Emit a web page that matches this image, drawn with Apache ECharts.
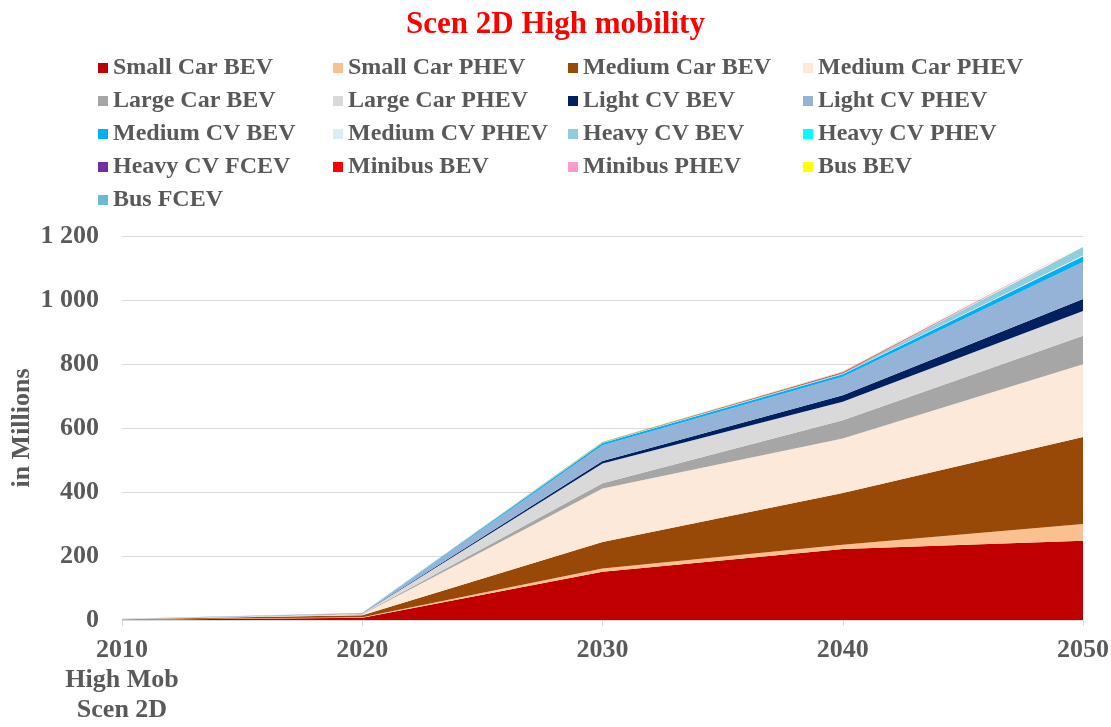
<!DOCTYPE html>
<html><head><meta charset="utf-8">
<script src="https://cdn.jsdelivr.net/npm/echarts@6/dist/echarts.min.js"></script>
<style>html,body{margin:0;padding:0;background:#fff}#c{width:1111px;height:727px}</style>
</head><body><div id="c"></div>
<script>
const years = ['2010', '2020', '2030', '2040', '2050'];
const yTicks = [0, 200, 400, 600, 800, 1000, 1200];
const seriesNames = ['Small Car BEV','Small Car PHEV','Medium Car BEV','Medium Car PHEV','Large Car BEV','Large Car PHEV','Light CV BEV','Light CV PHEV','Medium CV BEV','Medium CV PHEV','Heavy CV BEV','Heavy CV PHEV','Heavy CV FCEV','Minibus BEV','Minibus PHEV','Bus BEV','Bus FCEV'];
const smallCarBEV    = [1.0, 7, 151, 222, 248];
const smallCarPHEV   = [0.3, 1.5, 10, 13, 52];
const mediumCarBEV   = [1.0, 6, 83, 162, 272];
const mediumCarPHEV  = [0.5, 3, 167, 170, 227];
const largeCarBEV    = [0.3, 1, 16, 57, 89];
const largeCarPHEV   = [0.3, 2, 62, 58, 78];
const lightCVBEV     = [0.1, 0.5, 8, 20, 37];
const lightCVPHEV    = [0.1, 0.8, 49, 58, 116];
const mediumCVBEV    = [0.1, 0.3, 7, 8, 17];
const mediumCVPHEV   = [0.05, 0.2, 1, 1, 3];
const heavyCVBEV     = [0.05, 0.1, 1, 2, 27];
const heavyCVPHEV    = [0.02, 0.05, 0.2, 0.3, 1];
const heavyCVFCEV    = [0.01, 0.02, 0.1, 0.2, 1];
const minibusBEV     = [0.05, 0.2, 1, 3, 3];
const minibusPHEV    = [0.02, 0.1, 0.3, 0.5, 1];
const busBEV         = [0.05, 0.1, 0.5, 1, 5];
const busFCEV        = [0.01, 0.05, 0.2, 0.5, 3];
const seriesValues = [smallCarBEV, smallCarPHEV, mediumCarBEV, mediumCarPHEV, largeCarBEV, largeCarPHEV, lightCVBEV, lightCVPHEV, mediumCVBEV, mediumCVPHEV, heavyCVBEV, heavyCVPHEV, heavyCVFCEV, minibusBEV, minibusPHEV, busBEV, busFCEV];
const colors = ['#C00000','#FAC090','#984807','#FDE9D9','#A6A6A6','#D9D9D9','#002060','#95B3D7','#00B0F0','#DAEEF3','#92CDDC','#00FFFF','#7030A0','#FF0000','#FF99CC','#FFFF00','#6DBBCF'];

const FONT = '"Liberation Serif", "Times New Roman", serif';
const TXT = '#595959';
const chart = echarts.init(document.getElementById('c'));

const legendCols = [
  ['Small Car BEV','Large Car BEV','Medium CV BEV','Heavy CV FCEV','Bus FCEV'],
  ['Small Car PHEV','Large Car PHEV','Medium CV PHEV','Minibus BEV'],
  ['Medium Car BEV','Light CV BEV','Heavy CV BEV','Minibus PHEV'],
  ['Medium Car PHEV','Light CV PHEV','Heavy CV PHEV','Bus BEV']
];
const legendX = [98, 333, 568, 803];
const legends = legendCols.map((col, i) => ({
  data: col,
  orient: 'vertical',
  left: legendX[i],
  top: 56,
  padding: 0,
  itemWidth: 10,
  itemHeight: 10,
  itemGap: 9,
  icon: 'rect',
  selectedMode: false,
  textStyle: {fontFamily: FONT, fontWeight: 'bold', fontSize: 24, color: TXT, lineHeight: 24}
}));

chart.setOption({
  animation: false,
  title: {text: 'Scen 2D High mobility', left: 'center', top: 4,
    textStyle: {fontFamily: FONT, fontWeight: 'bold', fontSize: 31, color: '#FF0000'}},
  legend: legends,
  grid: {left: 122, right: 28, top: 236, bottom: 107, containLabel: false, outerBoundsMode: 'none'},
  xAxis: {
    type: 'category', data: years, boundaryGap: false,
    axisLine: {lineStyle: {color: '#D9D9D9'}},
    axisTick: {show: true, length: 6, lineStyle: {color: '#D9D9D9'}},
    axisLabel: {fontFamily: FONT, fontWeight: 'bold', fontSize: 26, color: TXT, margin: 15, lineHeight: 30,
      formatter: v => v === '2010' ? '2010\nHigh Mob\nScen 2D' : v}
  },
  yAxis: {
    type: 'value', min: yTicks[0], max: yTicks[yTicks.length-1], interval: 200,
    name: 'in Millions', nameLocation: 'middle', nameGap: 87, nameRotate: 90, nameMoveOverlap: false,
    nameTextStyle: {fontFamily: FONT, fontWeight: 'bold', fontSize: 26, color: TXT},
    axisLine: {show: false}, axisTick: {show: false},
    splitLine: {lineStyle: {color: '#D9D9D9'}},
    axisLabel: {fontFamily: FONT, fontWeight: 'bold', fontSize: 26, color: TXT, margin: 23,
      formatter: v => v >= 1000 ? String(v).replace(/(\d)(\d{3})$/, '$1 $2') : String(v)}
  },
  series: seriesNames.map((n, i) => ({
    name: n, type: 'line', stack: 'total', data: seriesValues[i],
    symbol: 'none', lineStyle: {width: 0}, itemStyle: {color: colors[i]},
    areaStyle: {color: colors[i], opacity: 1}
  }))
});
</script></body></html>
